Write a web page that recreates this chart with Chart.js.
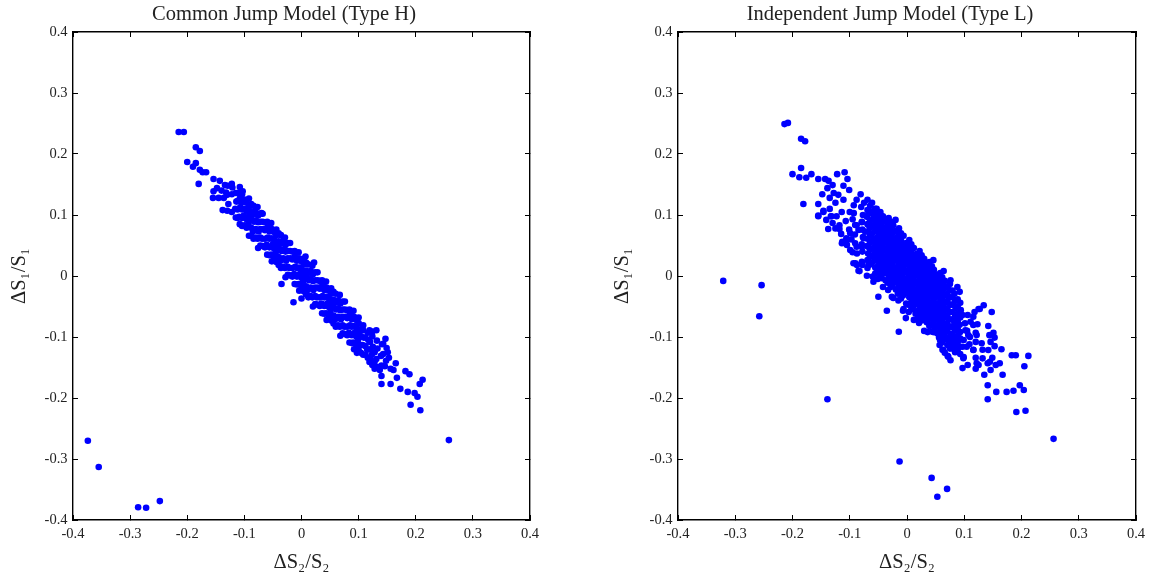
<!DOCTYPE html>
<html>
<head>
<meta charset="utf-8">
<title>Jump models</title>
<script src="https://cdn.jsdelivr.net/npm/chart.js@4"></script>
<style>
    html, body { margin: 0; padding: 0; background: #fff; overflow: hidden; width: 1151px; height: 576px; }
    canvas { position: absolute; top: 0; }
    #commonChart { left: 0; }
    #independentChart { left: 605px; }
</style>
</head>
<body>
<canvas id="commonChart" width="568" height="576"></canvas>
<canvas id="independentChart" width="570" height="576"></canvas>
<script>
const commonTitle = "Common Jump Model (Type H)";
const independentTitle = "Independent Jump Model (Type L)";
const xAxisLabel = "ΔS₂/S₂";
const yAxisLabel = "ΔS₁/S₁";
const tickValues = [-0.4, -0.3, -0.2, -0.1, 0, 0.1, 0.2, 0.3, 0.4];

// [dS2/S2, dS1/S1] pairs
const commonOutliers = [[-0.374,-0.270],[-0.355,-0.313],[-0.286,-0.379],[-0.272,-0.380],[-0.248,-0.369],[0.258,-0.269]];

const commonUpperTail = [[-0.215,0.236],[-0.206,0.236],[-0.185,0.211],[-0.178,0.205],[-0.2,0.187],[-0.185,0.185],
    [-0.19,0.179],[-0.178,0.174],[-0.173,0.17],[-0.167,0.17],[-0.18,0.151],[-0.154,0.159],[-0.143,0.156],[-0.134,0.149],
    [-0.122,0.151],[-0.108,0.146],[-0.103,0.139],[-0.154,0.139],[-0.148,0.144],[-0.155,0.128],[-0.145,0.128],[-0.099,0.125],
    [-0.138,0.108],[-0.08,0.111],[-0.07,0.103],[-0.14,0.14],[-0.136,0.128],[-0.128,0.118],[-0.132,0.137]];

const commonLowerTail = [[0.147,-0.103],[0.143,-0.111],[0.131,-0.089],[0.119,-0.089],[0.165,-0.143],[0.182,-0.156],[0.189,-0.161],
    [0.14,-0.164],[0.167,-0.167],[0.14,-0.177],[0.156,-0.177],[0.173,-0.185],[0.186,-0.19],[0.198,-0.192],[0.203,-0.198],
    [0.212,-0.17],[0.207,-0.177],[0.191,-0.211],[0.208,-0.22],[0.161,-0.154],[0.151,-0.125],[0.137,-0.154],[0.153,-0.134],
    [0.097,-0.126],[0.119,-0.141],[0.146,-0.148],[0.156,-0.152],[0.143,-0.128],[0.128,-0.152]];

const commonStragglers = [[-0.035,-0.013],[0,-0.037],[-0.014,-0.043],[0.007,0.032],[-0.031,0.061],[0.022,0.022]];

const commonCoreLeft = [[-0.13,0.107],[-0.13,0.133],[-0.129,0.148],[-0.122,0.105],[-0.122,0.134],[-0.121,0.145],
    [-0.115,0.096],[-0.116,0.11],[-0.114,0.122],[-0.115,0.136],[-0.108,0.085],[-0.109,0.097],[-0.107,0.113],[-0.108,0.127],[-0.108,0.137],
    [-0.1,0.083],[-0.101,0.099],[-0.099,0.11],[-0.1,0.125],[-0.092,0.066],[-0.093,0.085],[-0.091,0.101],[-0.092,0.113],[-0.092,0.127],
    [-0.084,0.061],[-0.085,0.073],[-0.083,0.089],[-0.084,0.101],[-0.084,0.115],[-0.076,0.046],[-0.077,0.061],[-0.075,0.073],[-0.076,0.088],[-0.076,0.099],[-0.077,0.113],
    [-0.068,0.049],[-0.069,0.061],[-0.067,0.077],[-0.068,0.089],[-0.068,0.102],[-0.06,0.035],[-0.061,0.051],[-0.059,0.063],[-0.06,0.079],[-0.06,0.089],
    [-0.052,0.024],[-0.053,0.035],[-0.051,0.051],[-0.052,0.062],[-0.052,0.077],[-0.053,0.087],[-0.044,0.023],[-0.045,0.039],[-0.043,0.051],[-0.044,0.067],[-0.044,0.076],
    [-0.036,0.013],[-0.037,0.025],[-0.035,0.041],[-0.036,0.053],[-0.036,0.067],[-0.028,-0.002],[-0.029,0.013],[-0.027,0.025],[-0.028,0.04],[-0.028,0.051],[-0.029,0.063],
    [-0.02,0.001],[-0.021,0.013],[-0.019,0.029],[-0.02,0.041],[-0.02,0.054],[-0.012,-0.013],[-0.013,0.003],[-0.011,0.015],[-0.012,0.031],[-0.012,0.041],
    [-0.004,-0.024],[-0.005,-0.013],[-0.003,0.003],[-0.004,0.014],[-0.004,0.029],[-0.005,0.039]];

const commonCoreRight = [[0.004,-0.025],[0.003,-0.009],[0.005,0.003],[0.004,0.019],[0.004,0.028],
    [0.012,-0.035],[0.011,-0.023],[0.013,-0.007],[0.012,0.005],[0.012,0.019],[0.02,-0.05],[0.019,-0.035],[0.021,-0.023],[0.02,-0.008],[0.02,0.003],[0.019,0.017],
    [0.028,-0.047],[0.027,-0.035],[0.029,-0.019],[0.028,-0.007],[0.028,0.006],[0.036,-0.061],[0.035,-0.045],[0.037,-0.033],[0.036,-0.017],[0.036,-0.007],
    [0.044,-0.072],[0.043,-0.061],[0.045,-0.045],[0.044,-0.034],[0.044,-0.019],[0.043,-0.009],[0.052,-0.073],[0.051,-0.057],[0.053,-0.045],[0.052,-0.029],[0.052,-0.02],
    [0.06,-0.083],[0.059,-0.071],[0.061,-0.055],[0.06,-0.043],[0.06,-0.029],[0.068,-0.098],[0.067,-0.083],[0.069,-0.071],[0.068,-0.056],[0.068,-0.045],[0.067,-0.031],
    [0.076,-0.095],[0.075,-0.083],[0.077,-0.067],[0.076,-0.055],[0.076,-0.042],[0.084,-0.109],[0.083,-0.093],[0.085,-0.081],[0.084,-0.065],[0.084,-0.055],
    [0.092,-0.12],[0.091,-0.109],[0.093,-0.093],[0.092,-0.082],[0.092,-0.067],[0.091,-0.057],[0.1,-0.121],[0.099,-0.105],[0.101,-0.093],[0.1,-0.077],[0.1,-0.068],
    [0.108,-0.129],[0.107,-0.113],[0.109,-0.101],[0.108,-0.089],[0.108,-0.081],[0.116,-0.134],[0.115,-0.121],[0.117,-0.105],[0.116,-0.093],
    [0.124,-0.146],[0.123,-0.129],[0.125,-0.116],[0.124,-0.099],[0.124,-0.091],[0.132,-0.149],[0.131,-0.136],[0.133,-0.119],[0.132,-0.106],[0.14,-0.147],[0.139,-0.131],[0.141,-0.112],[0.148,-0.139],[0.149,-0.118]];

// the solid middle of the left band, where single dots cannot be told apart
const commonFill = [[-0.112,0.095],[-0.112,0.109],[-0.112,0.123],[-0.112,0.136],[-0.104,0.082],[-0.104,0.095],[-0.104,0.109],[-0.104,0.121],[-0.104,0.134],
    [-0.096,0.079],[-0.096,0.093],[-0.096,0.107],[-0.096,0.12],[-0.088,0.066],[-0.088,0.079],[-0.088,0.093],[-0.088,0.105],[-0.088,0.118],
    [-0.08,0.063],[-0.08,0.077],[-0.08,0.091],[-0.08,0.104],[-0.072,0.05],[-0.072,0.063],[-0.072,0.077],[-0.072,0.089],[-0.072,0.102],
    [-0.064,0.047],[-0.064,0.061],[-0.064,0.075],[-0.064,0.088],[-0.056,0.034],[-0.056,0.047],[-0.056,0.061],[-0.056,0.073],[-0.056,0.086],
    [-0.048,0.031],[-0.048,0.045],[-0.048,0.059],[-0.048,0.072],[-0.04,0.018],[-0.04,0.031],[-0.04,0.045],[-0.04,0.057],[-0.04,0.07],
    [-0.032,0.015],[-0.032,0.029],[-0.032,0.043],[-0.032,0.056],[-0.024,0.002],[-0.024,0.015],[-0.024,0.029],[-0.024,0.041],[-0.024,0.054],
    [-0.016,-0.001],[-0.016,0.013],[-0.016,0.027],[-0.016,0.04],[-0.008,-0.014],[-0.008,-0.001],[-0.008,0.013],[-0.008,0.025],[-0.008,0.038],
    [0,-0.017],[0,-0.003],[0,0.011],[0,0.024],[0.008,-0.03],[0.008,-0.017],[0.008,-0.003],[0.008,0.009],[0.008,0.022],
    [0.016,-0.033],[0.016,-0.019],[0.016,-0.005],[0.016,0.008],[0.024,-0.046],[0.024,-0.033],[0.024,-0.019],[0.024,-0.007],[0.024,0.006],
    [0.032,-0.049],[0.032,-0.035],[0.032,-0.021],[0.032,-0.008],[0.04,-0.062],[0.04,-0.049],[0.04,-0.035],[0.04,-0.023],[0.04,-0.01],
    [0.048,-0.065],[0.048,-0.051],[0.048,-0.037],[0.048,-0.024],[0.056,-0.078],[0.056,-0.065],[0.056,-0.051],[0.056,-0.039],[0.056,-0.026],
    [0.064,-0.081],[0.064,-0.067],[0.064,-0.053],[0.064,-0.04],[0.072,-0.094],[0.072,-0.081],[0.072,-0.067],[0.072,-0.055],[0.072,-0.042],
    [0.08,-0.097],[0.08,-0.083],[0.08,-0.069],[0.08,-0.056],[0.088,-0.11],[0.088,-0.097],[0.088,-0.083],[0.088,-0.071],[0.088,-0.058],
    [0.096,-0.113],[0.096,-0.099],[0.096,-0.085],[0.096,-0.072],[0.104,-0.126],[0.104,-0.113],[0.104,-0.099],[0.104,-0.087],
    [0.112,-0.129],[0.112,-0.115],[0.112,-0.101],[0.12,-0.135],[0.12,-0.12],[0.12,-0.108],[0.128,-0.14],[0.128,-0.125]];

// same pairs for the right panel
const independentOutliers = [[-0.321,-0.008],[-0.254,-0.015],[-0.258,-0.066],[-0.139,-0.202],[-0.013,-0.304],[0.043,-0.331],[0.053,-0.362],[0.07,-0.349],[0.256,-0.267]];

const independentUpperTail = [[-0.214,0.249],[-0.208,0.251],[-0.185,0.225],[-0.178,0.221],[-0.185,0.177],[-0.2,0.167],[-0.188,0.162],[-0.176,0.161],[-0.167,0.167],
    [-0.155,0.159],[-0.143,0.159],[-0.137,0.156],[-0.122,0.167],[-0.109,0.17],[-0.104,0.159],[-0.13,0.149],[-0.139,0.144],[-0.148,0.134],[-0.111,0.148],[-0.101,0.141],
    [-0.081,0.134],[-0.181,0.118],[-0.155,0.118],[-0.135,0.128],[-0.128,0.136],[-0.12,0.133],[-0.111,0.125],[-0.125,0.12],[-0.135,0.11],[-0.146,0.107],[-0.155,0.098],
    [-0.069,0.125],[-0.093,0.116],[-0.08,0.113],[-0.053,0.11],[-0.046,0.1],[-0.067,0.103],[-0.02,0.092],[-0.114,0.105],[-0.093,0.103],[-0.123,0.098],[-0.132,0.098],
    [-0.13,0.087],[-0.113,0.056],[-0.095,0.039],[-0.09,0.021],[-0.083,0.008],[-0.118,0.083],[-0.107,0.09],[-0.101,0.076],[-0.115,0.069],[-0.106,0.062],[-0.095,0.093],
    [-0.088,0.083],[-0.097,0.06],[-0.088,0.048],[-0.091,0.068],[-0.125,0.078],[-0.141,0.092],[-0.1,0.105],[-0.088,0.125],[-0.075,0.12],[-0.061,0.12],
    [-0.0905,0.0836],[-0.0788,0.089],[-0.0673,0.0836],[-0.0992,0.07],[-0.0847,0.0754],[-0.073,0.0727],[-0.105,0.059],[-0.0905,0.0536],[-0.076,0.0618],[-0.0643,0.067],
    [-0.0992,0.0426],[-0.0788,0.048],[-0.0875,0.037],[-0.0673,0.048],[-0.0935,0.0208],[-0.0788,0.0234],[-0.0673,0.018],[-0.0875,0.018],[-0.0847,0.0087],[-0.07,0.0005],
    [-0.0586,-0.0093],[-0.044,-0.0038],[-0.0382,0.0044],[-0.1376,0.077],[-0.155,0.099],[-0.146,0.105],[-0.133,0.098],[-0.118,0.077],[-0.1137,0.0536],[-0.105,0.051]];

const independentLowerTail = [[0.134,-0.048],[0.127,-0.054],[0.118,-0.059],[0.148,-0.059],[0.142,-0.082],[0.123,-0.079],[0.144,-0.097],[0.151,-0.093],[0.153,-0.101],[0.146,-0.108],
    [0.153,-0.115],[0.165,-0.12],[0.183,-0.13],[0.19,-0.13],[0.212,-0.131],[0.205,-0.148],[0.162,-0.143],[0.167,-0.162],[0.135,-0.162],[0.141,-0.179],[0.156,-0.19],[0.174,-0.19],
    [0.186,-0.188],[0.197,-0.179],[0.204,-0.187],[0.141,-0.202],[0.191,-0.223],[0.207,-0.221],[-0.002,-0.069],[-0.0143,-0.0913],[-0.007,-0.057],[0.097,-0.151],[0.106,-0.146],[0.12,-0.152],
    [0.125,-0.146],[0.146,-0.154],[0.155,-0.146],[0.141,-0.143],[0.076,-0.138],[0.071,-0.131],[0.062,-0.121],[0.059,-0.105],[0.036,-0.092],[0.046,-0.092],[0.062,-0.093],[0.076,-0.11],
    [0.085,-0.121],[0.097,-0.116],[0.116,-0.121],[0.132,-0.121],[0.12,-0.108],[0.099,-0.133],[0.12,-0.134],[0.149,-0.134],[0.099,-0.105],[0.12,-0.093],[0.102,-0.089],[0.081,-0.085],
    [0.111,-0.075],[0.097,-0.064],[0.106,-0.064],[0.02,-0.072],[0.015,-0.062],[0.125,-0.054],[0.088,-0.018],[0.076,-0.007],[0.064,0.008],[0.046,0.026],[0.105,-0.09],[0.109,-0.112],[0.132,-0.135],[0.089,-0.1],[0.11,-0.1],
    [0.0926,-0.0612],[0.1158,-0.0667],[0.0868,-0.083],[0.1013,-0.0776],[0.1158,-0.0803],[0.078,-0.0995],[0.0926,-0.1022],[0.107,-0.0967],[0.1217,-0.0967],[0.1043,-0.116],
    [0.1158,-0.1213],[0.1304,-0.1103],[0.142,-0.1213],[0.0984,-0.1349],[0.1217,-0.1432],[0.1448,-0.1405],[0.0722,-0.1323],[0.0635,-0.1213],[0.0577,-0.1049],[0.0664,-0.0885],[0.0809,-0.0721],
    [-0.0352,-0.0569],[-0.05,-0.034],[-0.0265,-0.034]];

const independentCoreLeft = [[-0.078,0.018],[-0.078,0.04],[-0.079,0.052],[-0.077,0.064],[-0.078,0.076],[-0.079,0.088],[-0.077,0.1],
    [-0.069,0.013],[-0.069,0.026],[-0.068,0.037],[-0.07,0.049],[-0.069,0.061],[-0.068,0.073],[-0.069,0.085],[-0.07,0.097],[-0.069,0.108],
    [-0.06,-0.001],[-0.061,0.022],[-0.06,0.034],[-0.059,0.046],[-0.06,0.058],[-0.061,0.07],[-0.06,0.082],[-0.059,0.094],[-0.06,0.106],
    [-0.051,-0.005],[-0.052,0.007],[-0.05,0.019],[-0.051,0.031],[-0.052,0.043],[-0.051,0.055],[-0.05,0.067],[-0.051,0.079],[-0.052,0.091],[-0.051,0.102],
    [-0.042,-0.018],[-0.043,0.004],[-0.041,0.016],[-0.042,0.028],[-0.043,0.04],[-0.042,0.052],[-0.041,0.064],[-0.042,0.076],[-0.043,0.088],[-0.042,0.098],
    [-0.033,-0.023],[-0.034,-0.011],[-0.032,0.001],[-0.033,0.013],[-0.034,0.025],[-0.033,0.037],[-0.032,0.049],[-0.033,0.061],[-0.034,0.073],[-0.033,0.085],[-0.032,0.095],
    [-0.024,-0.036],[-0.025,-0.014],[-0.023,-0.002],[-0.024,0.01],[-0.025,0.022],[-0.024,0.034],[-0.023,0.046],[-0.024,0.058],[-0.025,0.07],[-0.024,0.083],
    [-0.015,-0.04],[-0.016,-0.029],[-0.014,-0.017],[-0.015,-0.005],[-0.016,0.007],[-0.015,0.019],[-0.014,0.031],[-0.015,0.043],[-0.016,0.055],[-0.015,0.067],[-0.014,0.078],
    [-0.006,-0.054],[-0.007,-0.032],[-0.005,-0.02],[-0.006,-0.008],[-0.007,0.004],[-0.006,0.016],[-0.005,0.028],[-0.006,0.04],[-0.007,0.052],[-0.006,0.066]];

const independentCoreRight = [[0.003,-0.059],[0.002,-0.047],[0.004,-0.035],[0.003,-0.023],[0.002,-0.011],[0.003,0.001],[0.004,0.013],[0.003,0.025],[0.002,0.037],[0.003,0.049],[0.004,0.059],
    [0.012,-0.072],[0.011,-0.05],[0.013,-0.038],[0.012,-0.026],[0.011,-0.014],[0.012,-0.002],[0.013,0.01],[0.012,0.022],[0.011,0.034],[0.012,0.046],
    [0.021,-0.077],[0.02,-0.065],[0.022,-0.053],[0.021,-0.041],[0.02,-0.029],[0.021,-0.017],[0.022,-0.005],[0.021,0.007],[0.02,0.019],[0.021,0.031],[0.022,0.041],
    [0.03,-0.09],[0.029,-0.068],[0.031,-0.056],[0.03,-0.044],[0.029,-0.032],[0.03,-0.02],[0.031,-0.008],[0.03,0.004],[0.029,0.016],[0.03,0.028],
    [0.039,-0.082],[0.038,-0.071],[0.04,-0.059],[0.039,-0.047],[0.038,-0.035],[0.039,-0.023],[0.04,-0.011],[0.039,0.001],[0.038,0.013],[0.039,0.023],
    [0.048,-0.086],[0.047,-0.074],[0.049,-0.062],[0.048,-0.05],[0.047,-0.038],[0.048,-0.026],[0.049,-0.014],[0.048,-0.002],[0.047,0.01],
    [0.057,-0.113],[0.056,-0.101],[0.058,-0.089],[0.057,-0.077],[0.056,-0.065],[0.057,-0.053],[0.058,-0.041],[0.057,-0.029],[0.056,-0.017],[0.057,-0.005],[0.058,0.005],
    [0.066,-0.126],[0.065,-0.104],[0.067,-0.092],[0.066,-0.08],[0.065,-0.068],[0.066,-0.056],[0.067,-0.044],[0.066,-0.032],[0.065,-0.02],[0.066,-0.008],
    [0.075,-0.119],[0.074,-0.107],[0.076,-0.095],[0.075,-0.083],[0.074,-0.071],[0.075,-0.059],[0.076,-0.047],[0.075,-0.035],[0.074,-0.023],[0.075,-0.013],
    [0.084,-0.125],[0.083,-0.113],[0.085,-0.101],[0.084,-0.089],[0.083,-0.077],[0.084,-0.065],[0.085,-0.053],[0.084,-0.041],[0.083,-0.029],
    [0.093,-0.128],[0.092,-0.116],[0.094,-0.104],[0.093,-0.092],[0.092,-0.08],[0.093,-0.068],[0.094,-0.056],[0.093,-0.044],[0.092,-0.026]];

// solid middle of the right band
const independentFill = [[-0.0645,0.019],[-0.0645,0.031],[-0.0645,0.043],[-0.0645,0.055],[-0.0645,0.067],[-0.0645,0.079],[-0.0645,0.091],[-0.0645,0.103],[-0.0645,0.115],
    [-0.0555,0.004],[-0.0555,0.014],[-0.0555,0.026],[-0.0555,0.038],[-0.0555,0.05],[-0.0555,0.062],[-0.0555,0.074],[-0.0555,0.086],[-0.0555,0.098],[-0.0555,0.11],
    [-0.0465,0],[-0.0465,0.011],[-0.0465,0.023],[-0.0465,0.035],[-0.0465,0.047],[-0.0465,0.059],[-0.0465,0.071],[-0.0465,0.083],[-0.0465,0.095],[-0.0465,0.105],
    [-0.0375,-0.007],[-0.0375,0.008],[-0.0375,0.02],[-0.0375,0.032],[-0.0375,0.044],[-0.0375,0.056],[-0.0375,0.068],[-0.0375,0.08],[-0.0375,0.092],
    [-0.0285,-0.018],[-0.0285,-0.006],[-0.0285,0.005],[-0.0285,0.017],[-0.0285,0.029],[-0.0285,0.041],[-0.0285,0.053],[-0.0285,0.065],[-0.0285,0.077],[-0.0285,0.089],
    [-0.0195,-0.022],[-0.0195,-0.01],[-0.0195,0.002],[-0.0195,0.014],[-0.0195,0.026],[-0.0195,0.038],[-0.0195,0.05],[-0.0195,0.062],[-0.0195,0.074],
    [-0.0105,-0.037],[-0.0105,-0.025],[-0.0105,-0.013],[-0.0105,-0.001],[-0.0105,0.011],[-0.0105,0.023],[-0.0105,0.035],[-0.0105,0.047],[-0.0105,0.059],[-0.0105,0.07],
    [-0.0015,-0.045],[-0.0015,-0.028],[-0.0015,-0.016],[-0.0015,-0.004],[-0.0015,0.008],[-0.0015,0.02],[-0.0015,0.032],[-0.0015,0.044],[-0.0015,0.054],
    [0.0075,-0.055],[0.0075,-0.043],[0.0075,-0.031],[0.0075,-0.019],[0.0075,-0.007],[0.0075,0.005],[0.0075,0.017],[0.0075,0.029],[0.0075,0.041],[0.0075,0.052],
    [0.0165,-0.058],[0.0165,-0.046],[0.0165,-0.034],[0.0165,-0.022],[0.0165,-0.01],[0.0165,0.002],[0.0165,0.014],[0.0165,0.026],[0.0165,0.036],
    [0.0255,-0.073],[0.0255,-0.061],[0.0255,-0.049],[0.0255,-0.037],[0.0255,-0.025],[0.0255,-0.013],[0.0255,-0.001],[0.0255,0.011],[0.0255,0.023],[0.0255,0.034],
    [0.0345,-0.076],[0.0345,-0.064],[0.0345,-0.052],[0.0345,-0.04],[0.0345,-0.028],[0.0345,-0.016],[0.0345,-0.004],[0.0345,0.008],[0.0345,0.02],
    [0.0435,-0.091],[0.0435,-0.079],[0.0435,-0.067],[0.0435,-0.055],[0.0435,-0.043],[0.0435,-0.031],[0.0435,-0.019],[0.0435,-0.007],[0.0435,0.005],[0.0435,0.016],
    [0.0525,-0.094],[0.0525,-0.082],[0.0525,-0.07],[0.0525,-0.058],[0.0525,-0.046],[0.0525,-0.034],[0.0525,-0.022],[0.0525,-0.01],[0.0525,0.002],
    [0.0615,-0.109],[0.0615,-0.097],[0.0615,-0.085],[0.0615,-0.073],[0.0615,-0.061],[0.0615,-0.049],[0.0615,-0.037],[0.0615,-0.025],[0.0615,-0.013],[0.0615,-0.002],
    [0.0705,-0.113],[0.0705,-0.101],[0.0705,-0.089],[0.0705,-0.077],[0.0705,-0.065],[0.0705,-0.053],[0.0705,-0.041],[0.0705,-0.029],[0.0705,-0.017],
    [0.0795,-0.119],[0.0795,-0.107],[0.0795,-0.095],[0.0795,-0.083],[0.0795,-0.071],[0.0795,-0.059],[0.0795,-0.047],[0.0795,-0.035],[0.0795,-0.024],
    [0.0885,-0.121],[0.0885,-0.109],[0.0885,-0.098],[0.0885,-0.086],[0.0885,-0.074],[0.0885,-0.062],[0.0885,-0.05],[0.0885,-0.038]];

const commonPoints = [...commonOutliers, ...commonUpperTail, ...commonLowerTail, ...commonStragglers, ...commonCoreLeft, ...commonCoreRight, ...commonFill];
const independentPoints = [...independentOutliers, ...independentUpperTail, ...independentLowerTail, ...independentCoreLeft, ...independentCoreRight, ...independentFill];

const serif = "'Liberation Serif', 'Times New Roman', serif";

function fixSize(prop, size) {
    return (scale) => { scale[prop] = size; };
}

// box axis without labels, only gives the inward ticks on top and right
function mirrorAxis(position, size) {
    return {
        type: "linear",
        position: position,
        min: -0.4,
        max: 0.4,
        afterBuildTicks: (scale) => { scale.ticks = tickValues.map((v) => ({ value: v })); },
        afterFit: fixSize(position === "top" ? "height" : "width", size),
        ticks: { display: false },
        border: { display: true, color: "#000", width: 1.4 },
        grid: { drawOnChartArea: false, drawTicks: true, tickLength: -5, tickWidth: 1, tickColor: "#000" },
    };
}

function mainAxis(position, label, titlePad) {
    const isX = position === "bottom";
    return {
        type: "linear",
        position: position,
        min: -0.4,
        max: 0.4,
        afterBuildTicks: (scale) => { scale.ticks = tickValues.map((v) => ({ value: v })); },
        afterFit: isX ? fixSize("height", 56) : fixSize("width", 73),
        ticks: {
            color: "#222",
            font: { family: serif, size: 14.5 },
            padding: 10.5,
            maxRotation: 0,
            autoSkip: false,
            callback: (value) => (value === 0 ? "0" : String(Math.round(value * 10) / 10)),
        },
        border: { display: true, color: "#000", width: 1.4 },
        grid: { drawOnChartArea: false, drawTicks: true, tickLength: -5, tickWidth: 1, tickColor: "#000" },
        title: {
            display: true,
            text: label,
            color: "#222",
            font: { family: serif, size: 20.5 },
            padding: isX ? { top: 0, bottom: 1 } : { top: titlePad, bottom: 0 },
        },
    };
}

function initScatter(canvasId, points, titleText, rightSize, yTitlePad) {
    const ctx = document.getElementById(canvasId).getContext("2d");

    new Chart(ctx, {
        type: "scatter",
        data: {
            datasets: [
                {
                    data: points.map(([x, y]) => ({ x: x, y: y })),
                    backgroundColor: "#0000ff",
                    borderWidth: 0,
                    pointRadius: 3.3,
                    xAxisID: "x",
                    yAxisID: "y",
                },
            ],
        },
        options: {
            responsive: false,
            animation: false,
            layout: { padding: 0 },
            plugins: {
                legend: { display: false },
                tooltip: { enabled: false },
                title: {
                    display: true,
                    text: titleText,
                    color: "#222",
                    font: { family: serif, size: 20.5, weight: "normal", lineHeight: 1.2 },
                    padding: { top: 2, bottom: 5.4 },
                },
            },
            scales: {
                x: mainAxis("bottom", xAxisLabel),
                y: mainAxis("left", yAxisLabel, yTitlePad),
                xTop: mirrorAxis("top", 0),
                yRight: mirrorAxis("right", rightSize),
            },
        },
    });
}

initScatter("commonChart", commonPoints, commonTitle, 38, 7);
initScatter("independentChart", independentPoints, independentTitle, 39, 5);
</script>
</body>
</html>
